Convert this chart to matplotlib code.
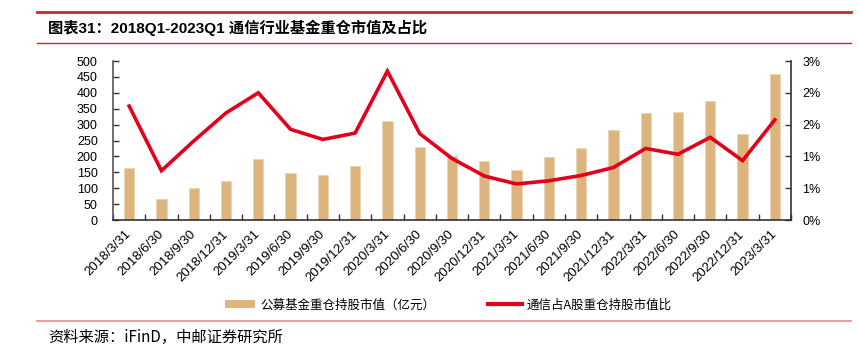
import matplotlib
matplotlib.use("Agg")
import matplotlib.pyplot as plt
from matplotlib.lines import Line2D
from matplotlib.ticker import FuncFormatter, FixedLocator
import numpy as np

plt.rcParams['font.family'] = ['Liberation Sans', 'Noto Sans CJK SC', 'DejaVu Sans']

categories = ["2018/3/31", "2018/6/30", "2018/9/30", "2018/12/31",
              "2019/3/31", "2019/6/30", "2019/9/30", "2019/12/31",
              "2020/3/31", "2020/6/30", "2020/9/30", "2020/12/31",
              "2021/3/31", "2021/6/30", "2021/9/30", "2021/12/31",
              "2022/3/31", "2022/6/30", "2022/9/30", "2022/12/31",
              "2023/3/31"]
fund_value = [162, 66, 102, 124, 191, 147, 140, 171, 310, 229, 201, 186,
              158, 197, 226, 283, 338, 341, 374, 269, 458]
share_pct = [2.15, 0.93, 1.49, 2.02, 2.40, 1.71, 1.52, 1.64, 2.81, 1.63,
             1.16, 0.83, 0.68, 0.74, 0.84, 0.99, 1.35, 1.24, 1.56, 1.12, 1.89]

title = "图表31：2018Q1-2023Q1 通信行业基金重仓市值及占比"
bar_label = "公募基金重仓持股市值（亿元）"
line_label = "通信占A股重仓持股市值比"
source = "资料来源：iFinD，中邮证券研究所"

W, H = 859, 354
fig = plt.figure(figsize=(W / 100, H / 100), dpi=100)

bar_color = "#DBB47E"
line_color = "#E3001B"

ax = fig.add_axes([113 / W, 1 - 220 / H, (791 - 113) / W, (220 - 61) / H])
x = np.arange(len(categories))
ax.bar(x, fund_value, width=0.32, color=bar_color, edgecolor="#EDD5B0", linewidth=0.6, zorder=2)
ax.set_xlim(-0.5, len(categories) - 0.5)
ax.set_ylim(0, 500)
ax.set_yticks(np.arange(0, 501, 50))
ax.set_xticks(x)
ax.set_xticklabels(categories, rotation=45, ha="right", va="center",
                   rotation_mode="anchor", fontsize=9.5)
ax.tick_params(axis="x", which="major", length=0, pad=9)
ax.xaxis.set_minor_locator(FixedLocator(np.arange(-0.5, len(categories), 1.0)))
ax.tick_params(axis="x", which="minor", direction="in", length=4, width=1, color="#333333")
ax.tick_params(axis="y", direction="in", length=4, width=1, color="#333333", labelsize=9, pad=11)
for s in ["top", "right"]:
    ax.spines[s].set_visible(False)
ax.spines["left"].set_color("#555555")
ax.spines["left"].set_linewidth(1.2)
ax.spines["bottom"].set_color("#333333")
ax.spines["bottom"].set_linewidth(1.2)

ax2 = ax.twinx()
ax2.plot(x, share_pct, color=line_color, linewidth=2.6, zorder=3, solid_joinstyle="miter")
ax2.set_ylim(0, 3.0)
ax2.set_yticks(np.arange(0, 3.01, 0.6))
ax2.yaxis.set_major_formatter(FuncFormatter(lambda v, p: f"{v:.0f}%"))
ax2.tick_params(axis="y", direction="in", length=4, width=1, color="#333333", labelsize=9, pad=8)
for s in ["top", "left", "bottom"]:
    ax2.spines[s].set_visible(False)
ax2.spines["right"].set_color("#333333")
ax2.spines["right"].set_linewidth(1.2)

# Legends (two entries placed separately)
cjk = {'family': ['Noto Sans CJK SC'], 'size': 9}
h1 = plt.Rectangle((0, 0), 1, 1, facecolor=bar_color, edgecolor="none")
h2 = Line2D([0], [0], color=line_color, linewidth=3.0)
leg1 = fig.legend([h1], [bar_label], loc="center left", bbox_to_anchor=(225 / W, 1 - 305 / H),
                  frameon=False, borderpad=0, borderaxespad=0, handlelength=2.4,
                  handleheight=0.55, handletextpad=0.45, prop=cjk)
leg2 = fig.legend([h2], [line_label], loc="center left", bbox_to_anchor=(488 / W, 1 - 305 / H),
                  frameon=False, borderpad=0, borderaxespad=0, handlelength=2.7,
                  handletextpad=0.35, prop=cjk)

# Header / footer decorations
fig.add_artist(Line2D([37 / W, 851 / W], [1 - 11.5 / H, 1 - 11.5 / H], color="#D0262C", linewidth=2.0))
fig.add_artist(Line2D([37 / W, 851 / W], [1 - 43 / H, 1 - 43 / H], color="#D0262C", linewidth=1.0))
fig.text(48 / W, 1 - 28 / H, title, fontsize=11, fontweight="bold", va="center", ha="left",
         family=['Liberation Sans', 'Noto Sans CJK SC'])
fig.add_artist(Line2D([37 / W, 851 / W], [1 - 321 / H, 1 - 321 / H], color="#E88A8A", linewidth=1.2))
fig.text(48 / W, 1 - 337 / H, source, fontsize=11, va="center", ha="left",
         family=['Noto Sans CJK SC'])

fig.savefig("out.png", dpi=100)
